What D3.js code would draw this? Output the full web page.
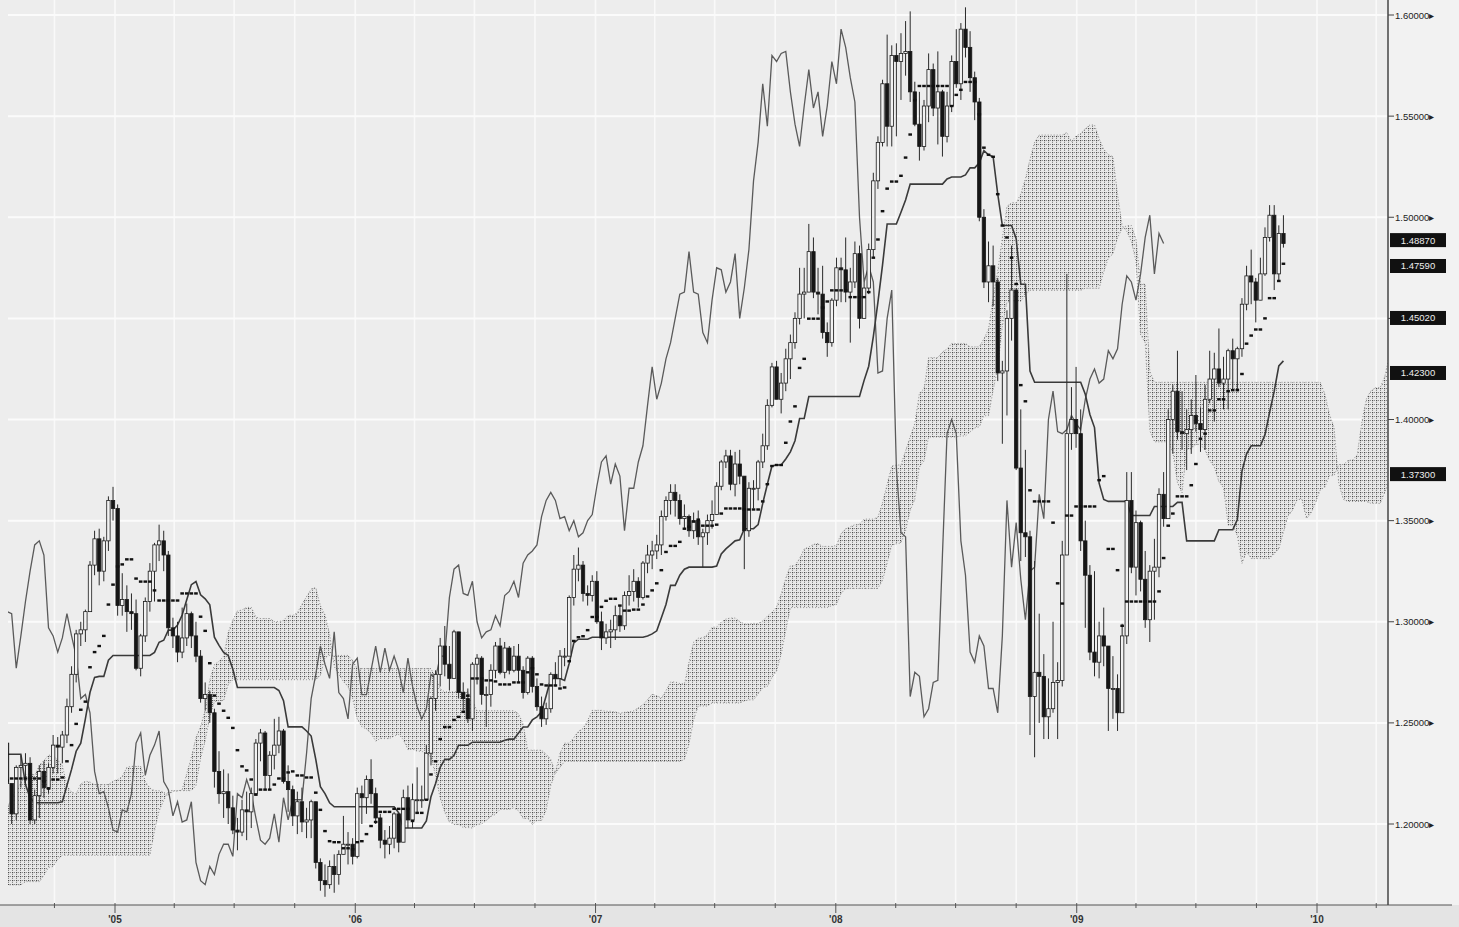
<!DOCTYPE html>
<html>
<head>
<meta charset="utf-8">
<script src="https://cdn.jsdelivr.net/npm/d3@7"></script>
<style>
  body { margin: 0; background: #ebebeb; }
  svg { display: block; font-family: "Liberation Sans", Arial, sans-serif; }
</style>
</head>
<body>
<div class="chart"></div>
<script>
// weekly bars, first one is the week of monday 2003-01-06 (one line per month)
var firstWeek = Date.UTC(2003, 0, 6);
var firstOpen = 1.0500;

var weekClose = [
  1.0590,1.0680,1.0780,1.0780, 1.0770,1.0770,1.0760,1.0800, 1.1000,1.0880,1.0620,1.0850,1.0780,
  1.0800,1.0900,1.1100,1.1280, 1.1500,1.1580,1.1800,1.1830, 1.1760,1.1750,1.1650,1.1500,1.1440,
  1.1250,1.1300,1.1440,1.1300, 1.1320,1.1280,1.0960,1.0880, 1.1060,1.1280,1.1400,1.1500,1.1600,
  1.1780,1.1650,1.1700,1.1550, 1.1450,1.1700,1.1850,1.1980, 1.2200,1.2300,1.2450,1.2450,1.2600,
  // 2004
  1.2750,1.2620,1.2650,1.2450, 1.2660,1.2830,1.2600,1.2450, 1.2250,1.2280,1.2350,1.2250,1.2250,
  1.2100,1.1950,1.1900,1.1950, 1.2000,1.1800,1.2000,1.2230,1.2250, 1.2100,1.2120,1.2150,1.2380,
  1.2380,1.2400,1.2200,1.2050, 1.2280,1.2290,1.2300,1.2020,1.2140, 1.2260,1.2180,1.2280,1.2390,
  1.2380,1.2440,1.2580,1.2740, 1.2940,1.2960,1.3050,1.3280,1.3410, 1.3250,1.3400,1.3600,1.3560,
  // 2005
  1.3080,1.3110,1.3050,1.3040,1.2770, 1.2930,1.3100,1.3250,1.3380, 1.3400,1.3330,1.2970,1.2930,
  1.2850,1.2920,1.3040,1.2930, 1.2830,1.2620,1.2640,1.2550,1.2260, 1.2150,1.2160,1.2080,1.1970,
  1.1960,1.2070,1.2060,1.2150, 1.2400,1.2450,1.2240,1.2340,1.2390, 1.2460,1.2210,1.2170,1.2040,
  1.2110,1.2010,1.2020,1.2110,1.1810, 1.1720,1.1700,1.1790,1.1750, 1.1850,1.1900,1.1900,1.1840,
  // 2006
  1.2150,1.2130,1.2220,1.2150,1.2030, 1.1920,1.1900,1.1930,1.2050, 1.1910,1.2130,1.2020,1.2120,
  1.2120,1.2120,1.2350,1.2620, 1.2740,1.2880,1.2790,1.2720,1.2950, 1.2650,1.2620,1.2520,1.2790,
  1.2820,1.2640,1.2640,1.2760,1.2880, 1.2750,1.2870,1.2760,1.2830, 1.2760,1.2650,1.2820,1.2680,
  1.2580,1.2520,1.2570,1.2740,1.2720, 1.2830,1.2830,1.3120,1.3260, 1.3280,1.3140,1.3130,1.3200,
  // 2007
  1.3000,1.2920,1.2950,1.2960,1.3030, 1.2980,1.3130,1.3150,1.3200, 1.3120,1.3290,1.3330,1.3350,
  1.3380,1.3520,1.3600,1.3640,1.3600, 1.3510,1.3520,1.3450,1.3500, 1.3420,1.3440,1.3500,1.3530,
  1.3670,1.3790,1.3820,1.3680,1.3780, 1.3720,1.3450,1.3660,1.3660, 1.3790,1.3870,1.4070,1.4260,
  1.4100,1.4180,1.4300,1.4380,1.4500, 1.4620,1.4630,1.4830,1.4630, 1.4620,1.4430,1.4380,1.4590,1.4750,
  // 2008
  1.4740,1.4630,1.4680,1.4820, 1.4500,1.4650,1.4840,1.5180, 1.5370,1.5660,1.5450,1.5800,1.5770,
  1.5810,1.5820,1.5620,1.5460, 1.5350,1.5550,1.5730,1.5540, 1.5620,1.5400,1.5550,1.5770,1.5660,
  1.5930,1.5840,1.5690,1.5570, 1.5000,1.4680,1.4760,1.4680, 1.4230,1.4240,1.4500,1.4640,1.3760,
  1.3440,1.3420,1.2630,1.2750, 1.2730,1.2530,1.2570,1.2700, 1.2710,1.3330,1.3930,1.4000,1.3930,
  // 2009
  1.3400,1.3230,1.2850,1.2800, 1.2930,1.2880,1.2670,1.2670, 1.2550,1.2930,1.3600,1.3270,1.3490,
  1.3210,1.3010,1.3250,1.3270, 1.3630,1.3510,1.4000,1.4140, 1.3940,1.3930,1.3950,1.4020,1.3980,
  1.3950,1.4100,1.4200,1.4250, 1.4180,1.4200,1.4340,1.4300,1.4350, 1.4570,1.4710,1.4680,1.4590,
  1.4720,1.4900,1.5010,1.4720, 1.4920,1.4870
];

var weekHigh = [
  1.0630,1.0700,1.0830,1.0880, 1.0880,1.0840,1.0800,1.0850, 1.1050,1.1080,1.0900,1.0900,1.0900,
  1.0860,1.0920,1.1150,1.1300, 1.1560,1.1650,1.1860,1.1933, 1.1900,1.1850,1.1850,1.1700,1.1580,
  1.1480,1.1350,1.1500,1.1500, 1.1450,1.1420,1.1300,1.1000, 1.1090,1.1310,1.1440,1.1550,1.1700,
  1.1820,1.1820,1.1800,1.1720, 1.1600,1.1750,1.1900,1.2000, 1.2220,1.2340,1.2470,1.2480,1.2650,
  // 2004
  1.2800,1.2898,1.2700,1.2700, 1.2700,1.2880,1.2930,1.2630, 1.2500,1.2400,1.2450,1.2400,1.2380,
  1.2300,1.2150,1.2000,1.2050, 1.2050,1.2000,1.2050,1.2250,1.2330, 1.2300,1.2200,1.2250,1.2400,
  1.2430,1.2450,1.2420,1.2180, 1.2290,1.2340,1.2350,1.2330,1.2170, 1.2290,1.2310,1.2300,1.2440,
  1.2430,1.2460,1.2620,1.2780, 1.2960,1.3000,1.3060,1.3300,1.3450, 1.3460,1.3420,1.3620,1.3667,
  // 2005
  1.3580,1.3240,1.3180,1.3140,1.3110, 1.2940,1.3120,1.3290,1.3390, 1.3480,1.3450,1.3350,1.3020,
  1.3000,1.3070,1.3090,1.3050, 1.3000,1.2860,1.2700,1.2660,1.2570, 1.2360,1.2270,1.2250,1.2140,
  1.2030,1.2120,1.2160,1.2180, 1.2420,1.2470,1.2460,1.2360,1.2520, 1.2530,1.2470,1.2290,1.2190,
  1.2160,1.2180,1.2080,1.2120,1.2110, 1.1830,1.1800,1.1820,1.1850, 1.1870,1.2040,1.1960,1.1930,
  // 2006
  1.2180,1.2190,1.2240,1.2320,1.2180, 1.2050,1.1970,1.1990,1.2060, 1.2040,1.2170,1.2190,1.2200,
  1.2280,1.2190,1.2390,1.2630, 1.2760,1.2920,1.2979,1.2880,1.2960, 1.2950,1.2700,1.2670,1.2800,
  1.2840,1.2830,1.2680,1.2790,1.2900, 1.2920,1.2900,1.2880,1.2880, 1.2890,1.2780,1.2830,1.2830,
  1.2720,1.2630,1.2600,1.2750,1.2800, 1.2860,1.2870,1.3130,1.3330, 1.3367,1.3300,1.3180,1.3230,
  // 2007
  1.3250,1.3050,1.2990,1.3010,1.3080, 1.3080,1.3150,1.3230,1.3260, 1.3220,1.3300,1.3380,1.3400,
  1.3430,1.3550,1.3620,1.3680,1.3680, 1.3630,1.3580,1.3530,1.3540, 1.3550,1.3460,1.3530,1.3600,
  1.3690,1.3800,1.3850,1.3850,1.3840, 1.3850,1.3720,1.3690,1.3700, 1.3800,1.3930,1.4100,1.4280,
  1.4290,1.4230,1.4350,1.4420,1.4530, 1.4750,1.4750,1.4967,1.4900, 1.4750,1.4760,1.4480,1.4600,1.4800,
  // 2008
  1.4800,1.4900,1.4750,1.4880, 1.4860,1.4680,1.4870,1.5220, 1.5400,1.5680,1.5903,1.5850,1.5860,
  1.5910,1.5970,1.6018,1.5670, 1.5620,1.5580,1.5810,1.5760, 1.5820,1.5630,1.5620,1.5800,1.5930,
  1.5960,1.6038,1.5920,1.5720, 1.5590,1.5040,1.4880,1.4860, 1.4700,1.4290,1.4540,1.4860,1.4650,
  1.4050,1.3850,1.3450,1.3300, 1.3040,1.2840,1.2720,1.3000, 1.2800,1.3400,1.4720,1.4160,1.4260,
  // 2009
  1.4050,1.3500,1.3280,1.3250, 1.3000,1.3070,1.2880,1.2830, 1.2740,1.2990,1.3740,1.3740,1.3550,
  1.3500,1.3350,1.3280,1.3410, 1.3660,1.3740,1.4050,1.4170, 1.4340,1.4140,1.4050,1.4100,1.4220,
  1.4060,1.4170,1.4340,1.4330, 1.4450,1.4310,1.4350,1.4400,1.4360, 1.4600,1.4760,1.4840,1.4700,
  1.4800,1.4950,1.5060,1.5060, 1.4960,1.5010
];

var weekLow = [
  1.0400,1.0500,1.0600,1.0700, 1.0720,1.0680,1.0700,1.0700, 1.0780,1.0850,1.0500,1.0560,1.0640,
  1.0650,1.0720,1.0880,1.1050, 1.1250,1.1450,1.1550,1.1700, 1.1650,1.1620,1.1600,1.1400,1.1360,
  1.1220,1.1100,1.1280,1.1250, 1.1200,1.1240,1.0900,1.0850, 1.0760,1.1000,1.1200,1.1300,1.1480,
  1.1600,1.1620,1.1600,1.1500, 1.1400,1.1420,1.1650,1.1760, 1.1950,1.2130,1.2250,1.2350,1.2400,
  // 2004
  1.2550,1.2600,1.2450,1.2400, 1.2420,1.2640,1.2500,1.2400, 1.2100,1.2200,1.2250,1.2150,1.2150,
  1.2000,1.1900,1.1800,1.1820, 1.1850,1.1760,1.1800,1.1980,1.2150, 1.2050,1.2000,1.2050,1.2080,
  1.2300,1.2320,1.2100,1.2000, 1.2020,1.2180,1.2200,1.2000,1.2000, 1.2030,1.2130,1.2150,1.2250,
  1.2250,1.2300,1.2400,1.2550, 1.2700,1.2880,1.2900,1.3050,1.3230, 1.3180,1.3200,1.3350,1.3500,
  // 2005
  1.3030,1.3030,1.2950,1.2960,1.2760, 1.2730,1.2900,1.3050,1.3100, 1.3300,1.3250,1.2930,1.2870,
  1.2800,1.2820,1.2880,1.2870, 1.2800,1.2600,1.2560,1.2500,1.2180, 1.2100,1.2030,1.2000,1.1950,
  1.1870,1.1940,1.1920,1.1980, 1.2140,1.2310,1.2170,1.2170,1.2270, 1.2350,1.2200,1.2060,1.1990,
  1.1950,1.1960,1.1930,1.1930,1.1780, 1.1670,1.1640,1.1680,1.1660, 1.1700,1.1860,1.1800,1.1800,
  // 2006
  1.1830,1.2000,1.2050,1.2100,1.2000, 1.1880,1.1830,1.1850,1.1880, 1.1860,1.1920,1.1980,1.1980,
  1.2050,1.2080,1.2130,1.2290, 1.2560,1.2680,1.2730,1.2660,1.2720, 1.2620,1.2560,1.2500,1.2460,
  1.2690,1.2590,1.2480,1.2580,1.2720, 1.2740,1.2720,1.2740,1.2750, 1.2700,1.2620,1.2640,1.2650,
  1.2560,1.2480,1.2490,1.2550,1.2680, 1.2680,1.2780,1.2840,1.3080, 1.3200,1.3100,1.3080,1.3100,
  // 2007
  1.2990,1.2860,1.2890,1.2870,1.2910, 1.2950,1.2960,1.3080,1.3100, 1.3070,1.3110,1.3240,1.3260,
  1.3310,1.3330,1.3500,1.3530,1.3520, 1.3480,1.3460,1.3420,1.3410, 1.3380,1.3270,1.3380,1.3460,
  1.3560,1.3650,1.3760,1.3650,1.3620, 1.3680,1.3260,1.3420,1.3560, 1.3600,1.3760,1.3850,1.4060,
  1.4100,1.4030,1.4140,1.4200,1.4350, 1.4470,1.4500,1.4730,1.4600, 1.4520,1.4400,1.4310,1.4360,1.4560,
  // 2008
  1.4580,1.4580,1.4380,1.4650, 1.4450,1.4500,1.4620,1.4800, 1.5140,1.5350,1.5350,1.5350,1.5400,
  1.5580,1.5700,1.5570,1.5450, 1.5280,1.5330,1.5470,1.5500, 1.5360,1.5300,1.5370,1.5520,1.5640,
  1.5580,1.5790,1.5620,1.5480, 1.4980,1.4650,1.4580,1.4560, 1.4190,1.3880,1.4020,1.4390,1.3750,
  1.3300,1.3320,1.2440,1.2330, 1.2500,1.2420,1.2420,1.2550, 1.2420,1.2680,1.3340,1.3850,1.3860,
  // 2009
  1.3350,1.2970,1.2810,1.2730, 1.2720,1.2780,1.2460,1.2520, 1.2460,1.2560,1.2890,1.3240,1.3130,
  1.3150,1.2970,1.2900,1.3010, 1.3220,1.3470,1.3520,1.3830, 1.3900,1.3850,1.3750,1.3830,1.3940,
  1.3840,1.3850,1.4080,1.3990, 1.4160,1.4050,1.4050,1.4150,1.4140, 1.4310,1.4540,1.4570,1.4480,
  1.4590,1.4710,1.4880,1.4640, 1.4680,1.4850
];

// price ticks on the right axis and the black value boxes
var priceTicks = [1.20, 1.25, 1.30, 1.35, 1.40, 1.45, 1.50, 1.55, 1.60];
var boxValues = [1.48870, 1.47590, 1.45020, 1.42300, 1.37300];
var yearLabels = ["'05", "'06", "'07", "'08", "'09", "'10"];

if (weekHigh.length !== weekClose.length || weekLow.length !== weekClose.length) {
  throw new Error("length mismatch " + weekClose.length + " " + weekHigh.length + " " + weekLow.length);
}

//svg size and the plot box
var svgWidth = 1459;
var svgHeight = 927;
var plot = { left: 8, right: 1388, top: 0, bottom: 905 };

var svg = d3.select(".chart")
  .append("svg")
  .attr("width", svgWidth)
  .attr("height", svgHeight);

//scales: years are laid out from the '05 and '10 labels, price from the right axis
var x = d3.scaleUtc()
  .domain([new Date(Date.UTC(2005, 0, 1)), new Date(Date.UTC(2010, 0, 1))])
  .range([115, 1317]);

var y = d3.scaleLinear()
  .domain([1.60, 1.20])
  .range([15, 824]);

function weekDate(i) {
  return new Date(firstWeek + (i * 7 + 2) * 86400000);
}

//backgrounds
svg.append("rect").attr("width", svgWidth).attr("height", svgHeight).attr("fill", "#f2f2f2");
svg.append("rect")
  .attr("x", 0).attr("y", 0)
  .attr("width", plot.right).attr("height", plot.bottom)
  .attr("fill", "#ededed");
svg.append("rect")
  .attr("x", 0).attr("y", plot.bottom)
  .attr("width", svgWidth).attr("height", svgHeight - plot.bottom)
  .attr("fill", "#e4e4e4");

//cloud pattern: small dots on a grid
var defs = svg.append("defs");
var pat = defs.append("pattern")
  .attr("id", "cloud")
  .attr("patternUnits", "userSpaceOnUse")
  .attr("width", 4).attr("height", 4);
pat.append("rect").attr("width", 4).attr("height", 4).attr("fill", "#e8e8e8");
pat.append("rect").attr("x", 0).attr("y", 0).attr("width", 1.2).attr("height", 1.2).attr("fill", "#4a4a4a");
pat.append("rect").attr("x", 2).attr("y", 0).attr("width", 1).attr("height", 1).attr("fill", "#8a8a8a");
pat.append("rect").attr("x", 0).attr("y", 2).attr("width", 1).attr("height", 1).attr("fill", "#8a8a8a");

defs.append("clipPath").attr("id", "plotClip")
  .append("rect")
  .attr("x", plot.left).attr("y", plot.top)
  .attr("width", plot.right - plot.left).attr("height", plot.bottom - plot.top);

//white gridlines
var quarters = d3.utcMonth.every(3).range(new Date(Date.UTC(2004, 6, 1)), new Date(Date.UTC(2010, 6, 1)));
var grid = svg.append("g").attr("clip-path", "url(#plotClip)");
grid.selectAll(".vgrid")
  .data(quarters)
  .enter()
  .append("line")
  .attr("x1", d => x(d)).attr("x2", d => x(d))
  .attr("y1", 0).attr("y2", plot.bottom)
  .attr("stroke", "#f9f9f9")
  .attr("stroke-width", 1.6);
grid.selectAll(".hgrid")
  .data(priceTicks)
  .enter()
  .append("line")
  .attr("x1", 0).attr("x2", plot.right)
  .attr("y1", d => y(d)).attr("y2", d => y(d))
  .attr("stroke", "#fbfbfb")
  .attr("stroke-width", 2);

//ichimoku lines from the weekly bars
function midRange(i, n) {
  if (i - n + 1 < 0) return null;
  var hi = d3.max(weekHigh.slice(i - n + 1, i + 1));
  var lo = d3.min(weekLow.slice(i - n + 1, i + 1));
  return (hi + lo) / 2;
}

var bars = weekClose.map(function(c, i) {
  return {
    date: weekDate(i),
    o: i ? weekClose[i - 1] : firstOpen,
    h: weekHigh[i],
    l: weekLow[i],
    c: c,
    tenkan: midRange(i, 9),
    kijun: midRange(i, 26)
  };
});

var cloud = [];
bars.forEach(function(b, i) {
  if (i >= 51) {
    cloud.push({ date: weekDate(i + 26), a: (b.tenkan + b.kijun) / 2, b: midRange(i, 52) });
  }
});

var chikou = bars.slice(26).map(function(b, k) {
  return { date: weekDate(k), v: b.c };
});

var chartGroup = svg.append("g").attr("clip-path", "url(#plotClip)");

//cloud between the two spans
chartGroup.append("path")
  .datum(cloud)
  .attr("d", d3.area().x(d => x(d.date)).y0(d => y(d.b)).y1(d => y(d.a)))
  .attr("fill", "url(#cloud)")
  .attr("stroke", "#7a7a7a")
  .attr("stroke-width", 0.8)
  .attr("stroke-dasharray", "1,2");

//lagging line
chartGroup.append("path")
  .datum(chikou)
  .attr("d", d3.line().x(d => x(d.date)).y(d => y(d.v)))
  .attr("fill", "none")
  .attr("stroke", "#5a5a5a")
  .attr("stroke-width", 1.3);

//base line
chartGroup.append("path")
  .datum(bars.filter(d => d.kijun !== null))
  .attr("d", d3.line().x(d => x(d.date)).y(d => y(d.kijun)))
  .attr("fill", "none")
  .attr("stroke", "#3a3a3a")
  .attr("stroke-width", 1.6);

//candles
var candles = chartGroup.selectAll(".candle")
  .data(bars)
  .enter()
  .append("g")
  .classed("candle", true);

candles.append("line")
  .attr("x1", d => x(d.date)).attr("x2", d => x(d.date))
  .attr("y1", d => y(Math.max(d.h, d.o, d.c)))
  .attr("y2", d => y(Math.min(d.l, d.o, d.c)))
  .attr("stroke", "#2a2a2a")
  .attr("stroke-width", 1);

candles.append("rect")
  .attr("x", d => x(d.date) - 1.7)
  .attr("width", 3.4)
  .attr("y", d => y(Math.max(d.o, d.c)))
  .attr("height", d => Math.max(1, Math.abs(y(d.o) - y(d.c))))
  .attr("fill", d => d.c >= d.o ? "#f2f2f2" : "#161616")
  .attr("stroke", "#1a1a1a")
  .attr("stroke-width", 0.8);

//conversion line drawn as short dashes each week
chartGroup.selectAll(".tenkan")
  .data(bars.filter(d => d.tenkan !== null))
  .enter()
  .append("rect")
  .attr("x", d => x(d.date) - 1.8)
  .attr("y", d => y(d.tenkan) - 1.2)
  .attr("width", 3.6)
  .attr("height", 2.4)
  .attr("fill", "#111");

//bottom axis
var axisY = plot.bottom;
svg.append("line")
  .attr("x1", 0).attr("x2", 1452)
  .attr("y1", axisY).attr("y2", axisY)
  .attr("stroke", "#555").attr("stroke-width", 1.2);

svg.selectAll(".qtick")
  .data(quarters.filter(d => x(d) > plot.left && x(d) < plot.right))
  .enter()
  .append("line")
  .attr("x1", d => x(d)).attr("x2", d => x(d))
  .attr("y1", axisY - 2)
  .attr("y2", d => d.getUTCMonth() === 0 ? axisY + 8 : axisY + 3)
  .attr("stroke", "#555");

svg.selectAll(".year")
  .data(yearLabels)
  .enter()
  .append("text")
  .attr("x", (d, i) => x(new Date(Date.UTC(2005 + i, 0, 1))))
  .attr("y", axisY + 18)
  .attr("text-anchor", "middle")
  .attr("font-size", 10)
  .attr("font-weight", "bold")
  .attr("fill", "#333")
  .text(d => d);

//right price axis
svg.append("line")
  .attr("x1", plot.right).attr("x2", plot.right)
  .attr("y1", 0).attr("y2", axisY)
  .attr("stroke", "#444").attr("stroke-width", 1.5);

var fmt = d3.format(".5f");
var priceAxis = svg.append("g");
priceAxis.selectAll("line")
  .data(priceTicks)
  .enter()
  .append("line")
  .attr("x1", plot.right).attr("x2", plot.right + 6)
  .attr("y1", d => y(d)).attr("y2", d => y(d))
  .attr("stroke", "#444");

//tick labels that sit under a value box are hidden by it, so leave them out
var shownTicks = priceTicks.filter(t => boxValues.every(b => Math.abs(y(b) - y(t)) > 12));
priceAxis.selectAll("text")
  .data(shownTicks)
  .enter()
  .append("text")
  .attr("x", plot.right + 7)
  .attr("y", d => y(d) + 3.5)
  .attr("font-size", 9.5)
  .attr("fill", "#222")
  .text(d => fmt(d) + "\u25B8");

var boxes = svg.selectAll(".box")
  .data(boxValues)
  .enter()
  .append("g")
  .classed("box", true)
  .attr("transform", d => `translate(${plot.right + 2}, ${y(d)})`);
boxes.append("rect")
  .attr("x", 0).attr("y", -7)
  .attr("width", 56).attr("height", 14)
  .attr("fill", "#111");
boxes.append("text")
  .attr("x", 28).attr("y", 3.5)
  .attr("text-anchor", "middle")
  .attr("font-size", 9.5)
  .attr("fill", "#eee")
  .text(d => fmt(d));
</script>
</body>
</html>
